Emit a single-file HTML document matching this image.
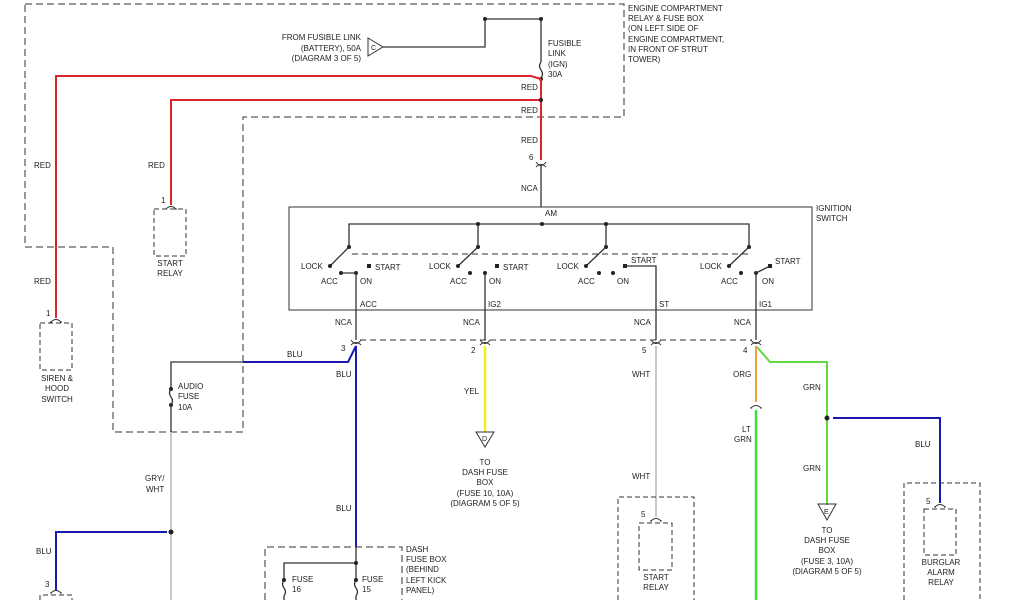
<!DOCTYPE html>
<html><head><meta charset="utf-8"><style>
html,body{margin:0;padding:0;background:#fff}
svg{display:block}
text{font-family:"Liberation Sans",sans-serif;font-size:8px;fill:#222}
.d{fill:none;stroke:#333;stroke-width:1;stroke-dasharray:7,4}
.k{fill:none;stroke:#333;stroke-width:1.3}
.c{fill:none;stroke:#333;stroke-width:1}
</style></head><body>
<svg width="1024" height="600" viewBox="0 0 1024 600" xmlns="http://www.w3.org/2000/svg">
<defs>
<g id="cn"><path d="M-5,-3 Q0,4 5,-3 M-5,2 Q0,-3 5,2" class="c"/></g>
<g id="ct"><path d="M-5,2 Q0,-3 5,2 M-6,2 L-4,2 M4,2 L6,2" class="c"/></g>
</defs>
<!-- engine compartment box -->
<path class="d" d="M25,4 H624 V117 H243 V432 H113 V247 H25 Z"/>
<!-- C triangle and feed -->
<path d="M368,38 L383,47 L368,56 Z" class="c"/>
<text x="371" y="50" style="font-size:7px">C</text>
<path class="k" d="M383,47 H485 V19 H541 V62"/>
<circle cx="485" cy="19" r="2" fill="#222"/><circle cx="541" cy="19" r="2" fill="#222"/>
<path class="k" d="M541,62 q-3,4 0,8 q3,4 0,8"/>
<circle cx="541" cy="79" r="2" fill="#222"/>
<text x="548" y="46">FUSIBLE</text><text x="548" y="56">LINK</text><text x="548" y="67">(IGN)</text><text x="548" y="77">30A</text>
<text x="361" y="40" text-anchor="end">FROM FUSIBLE LINK</text>
<text x="361" y="51" text-anchor="end">(BATTERY), 50A</text>
<text x="361" y="61" text-anchor="end">(DIAGRAM 3 OF 5)</text>
<g fill="#222"><text x="628" y="11">ENGINE COMPARTMENT</text><text x="628" y="21">RELAY &amp; FUSE BOX</text><text x="628" y="31">(ON LEFT SIDE OF</text><text x="628" y="42">ENGINE COMPARTMENT,</text><text x="628" y="52">IN FRONT OF STRUT</text><text x="628" y="62">TOWER)</text></g>
<!-- red wires -->
<path d="M541,79 L531,76 H56 V318" fill="none" stroke="#d8262a" stroke-width="2"/>
<path d="M541,79 V160 M541,100 H171 V205" fill="none" stroke="#d8262a" stroke-width="2"/>
<circle cx="541" cy="100" r="2" fill="#222"/>
<text x="521" y="90">RED</text><text x="521" y="113">RED</text><text x="521" y="143">RED</text>
<text x="34" y="168">RED</text><text x="148" y="168">RED</text><text x="34" y="284">RED</text>
<text x="529" y="160">6</text>
<use href="#cn" x="541" y="165"/>
<path class="k" d="M541,166 V207"/>
<text x="521" y="191">NCA</text>
<!-- relays left -->
<use href="#ct" x="171" y="207"/><text x="161" y="203">1</text>
<rect x="154" y="209" width="32" height="47" class="d" style="stroke-dasharray:5,3"/>
<text x="170" y="266" text-anchor="middle">START</text><text x="170" y="276" text-anchor="middle">RELAY</text>
<use href="#ct" x="56" y="320"/><text x="46" y="316">1</text>
<rect x="40" y="323" width="32" height="47" class="d" style="stroke-dasharray:5,3"/>
<text x="57" y="381" text-anchor="middle">SIREN &amp;</text><text x="57" y="391" text-anchor="middle">HOOD</text><text x="57" y="402" text-anchor="middle">SWITCH</text>
<!-- ignition switch -->
<rect x="289" y="207" width="523" height="103" class="c"/>
<text x="816" y="211">IGNITION</text><text x="816" y="221">SWITCH</text>
<text x="545" y="216">AM</text>
<path class="k" d="M349,247 V224 H749 V247 M478,224 V247 M606,224 V247"/>
<g fill="#222"><circle cx="542" cy="224" r="2"/><circle cx="478" cy="224" r="2"/><circle cx="606" cy="224" r="2"/>
<circle cx="349" cy="247" r="2"/><circle cx="478" cy="247" r="2"/><circle cx="606" cy="247" r="2"/><circle cx="749" cy="247" r="2"/></g>
<path class="d" d="M352,254 H750" style="stroke-dasharray:6,4"/>
<path class="k" d="M349,247 L330,266 M478,247 L458,266 M606,247 L586,266 M749,247 L729,266"/>
<g fill="#222">
<circle cx="330" cy="266" r="2"/><rect x="367" y="264" width="4" height="4"/><circle cx="341" cy="273" r="2"/><circle cx="356" cy="273" r="2"/>
<circle cx="458" cy="266" r="2"/><rect x="495" y="264" width="4" height="4"/><circle cx="470" cy="273" r="2"/><circle cx="485" cy="273" r="2"/>
<circle cx="586" cy="266" r="2"/><rect x="623" y="264" width="4" height="4"/><circle cx="599" cy="273" r="2"/><circle cx="613" cy="273" r="2"/>
<circle cx="729" cy="266" r="2"/><rect x="768" y="264" width="4" height="4"/><circle cx="741" cy="273" r="2"/><circle cx="756" cy="273" r="2"/>
</g>
<path class="k" d="M341,273 H356 V340 M485,273 V340 M625,266 H656 V340 M756,273 V340 M756,273 L770,266"/>
<text x="301" y="269">LOCK</text><text x="375" y="270">START</text><text x="321" y="284">ACC</text><text x="360" y="284">ON</text>
<text x="429" y="269">LOCK</text><text x="503" y="270">START</text><text x="450" y="284">ACC</text><text x="489" y="284">ON</text>
<text x="557" y="269">LOCK</text><text x="631" y="263">START</text><text x="578" y="284">ACC</text><text x="617" y="284">ON</text>
<text x="700" y="269">LOCK</text><text x="775" y="264">START</text><text x="721" y="284">ACC</text><text x="762" y="284">ON</text>
<text x="360" y="307">ACC</text><text x="488" y="307">IG2</text><text x="659" y="307">ST</text><text x="759" y="307">IG1</text>
<text x="335" y="325">NCA</text><text x="463" y="325">NCA</text><text x="634" y="325">NCA</text><text x="734" y="325">NCA</text>
<path class="d" d="M360,340 H752" style="stroke-dasharray:6,4"/>
<use href="#cn" x="356" y="343"/><use href="#cn" x="485" y="343"/><use href="#cn" x="656" y="343"/><use href="#cn" x="756" y="343"/>
<text x="341" y="351">3</text><text x="471" y="353">2</text><text x="642" y="353">5</text><text x="743" y="353">4</text>
<!-- blue acc -->
<path d="M356,346 L348,362 H243" fill="none" stroke="#1a1ab0" stroke-width="2"/>
<path d="M356,346 V547" fill="none" stroke="#1a1ab0" stroke-width="2"/>
<path class="k" d="M243,362 H171 V389"/>
<text x="287" y="357">BLU</text><text x="336" y="377">BLU</text><text x="336" y="511">BLU</text>
<circle cx="171" cy="389" r="2" fill="#222"/><circle cx="171" cy="405" r="2" fill="#222"/>
<path class="k" d="M171,389 q-3,4 0,8 q3,4 0,8 V432"/>
<text x="178" y="389">AUDIO</text><text x="178" y="399">FUSE</text><text x="178" y="410">10A</text>
<path d="M171,432 V600" stroke="#c8c8c8" stroke-width="2"/>
<text x="145" y="481">GRY/</text><text x="146" y="492">WHT</text>
<circle cx="171" cy="532" r="2.5" fill="#222"/>
<path d="M167,532 H56 V590" fill="none" stroke="#1a1ab0" stroke-width="2"/>
<text x="36" y="554">BLU</text>
<use href="#ct" x="56" y="591"/><text x="45" y="587">3</text>
<path class="d" d="M40,600 V595 H72 V600" style="stroke-dasharray:5,3"/>
<!-- dash fuse box -->
<path class="d" d="M265,600 V547 H402 V600"/>
<path class="k" d="M356,547 V563 H284 V580 M356,563 V580"/>
<circle cx="356" cy="563" r="2" fill="#222"/>
<circle cx="284" cy="580" r="2" fill="#222"/><circle cx="356" cy="580" r="2" fill="#222"/>
<path class="k" d="M284,580 q-3,4 0,8 q3,4 0,8 V600 M356,580 q-3,4 0,8 q3,4 0,8 V600"/>
<text x="292" y="582">FUSE</text><text x="292" y="592">16</text><text x="362" y="582">FUSE</text><text x="362" y="592">15</text>
<text x="406" y="552">DASH</text><text x="406" y="562">FUSE BOX</text><text x="406" y="572">(BEHIND</text><text x="406" y="583">LEFT KICK</text><text x="406" y="593">PANEL)</text>
<!-- yellow -->
<path d="M485,346 V432" stroke="#f0f020" stroke-width="2.5"/>
<text x="464" y="394">YEL</text>
<path d="M476,432 L494,432 L485,447 Z" class="c"/><text x="482" y="441" style="font-size:7px">D</text>
<g text-anchor="middle"><text x="485" y="465">TO</text><text x="485" y="475">DASH FUSE</text><text x="485" y="485">BOX</text><text x="485" y="496">(FUSE 10, 10A)</text><text x="485" y="506">(DIAGRAM 5 OF 5)</text></g>
<!-- white -->
<path d="M656,346 V517" stroke="#c8c8c8" stroke-width="2"/>
<text x="632" y="377">WHT</text><text x="632" y="479">WHT</text>
<path class="d" d="M618,600 V497 H694 V600" style="stroke-dasharray:5,3"/>
<use href="#ct" x="656" y="519"/><text x="641" y="517">5</text>
<rect x="639" y="523" width="33" height="47" class="d" style="stroke-dasharray:5,3"/>
<text x="656" y="580" text-anchor="middle">START</text><text x="656" y="590" text-anchor="middle">RELAY</text>
<!-- orange / green -->
<path d="M756,346 V402" stroke="#f0a040" stroke-width="2"/>
<text x="733" y="377">ORG</text>
<use href="#ct" x="756" y="406"/>
<path d="M756,410 V600" stroke="#40e040" stroke-width="2.5"/>
<text x="742" y="432">LT</text><text x="734" y="442">GRN</text>
<path d="M757,347 L770,362 H827 V505" fill="none" stroke="#60d840" stroke-width="2"/>
<text x="803" y="390">GRN</text><text x="803" y="471">GRN</text>
<circle cx="827" cy="418" r="2.5" fill="#222"/>
<path d="M833,418 H940 V503" fill="none" stroke="#1a1ab0" stroke-width="2"/>
<text x="915" y="447">BLU</text>
<path d="M818,504 L836,504 L827,520 Z" class="c"/><text x="824" y="514" style="font-size:7px">E</text>
<g text-anchor="middle"><text x="827" y="533">TO</text><text x="827" y="543">DASH FUSE</text><text x="827" y="553">BOX</text><text x="827" y="564">(FUSE 3, 10A)</text><text x="827" y="574">(DIAGRAM 5 OF 5)</text></g>
<path class="d" d="M904,600 V483 H980 V600" style="stroke-dasharray:5,3"/>
<use href="#ct" x="940" y="505"/><text x="926" y="504">5</text>
<rect x="924" y="509" width="32" height="46" class="d" style="stroke-dasharray:5,3"/>
<g text-anchor="middle"><text x="941" y="565">BURGLAR</text><text x="941" y="575">ALARM</text><text x="941" y="585">RELAY</text></g>
</svg>
</body></html>
